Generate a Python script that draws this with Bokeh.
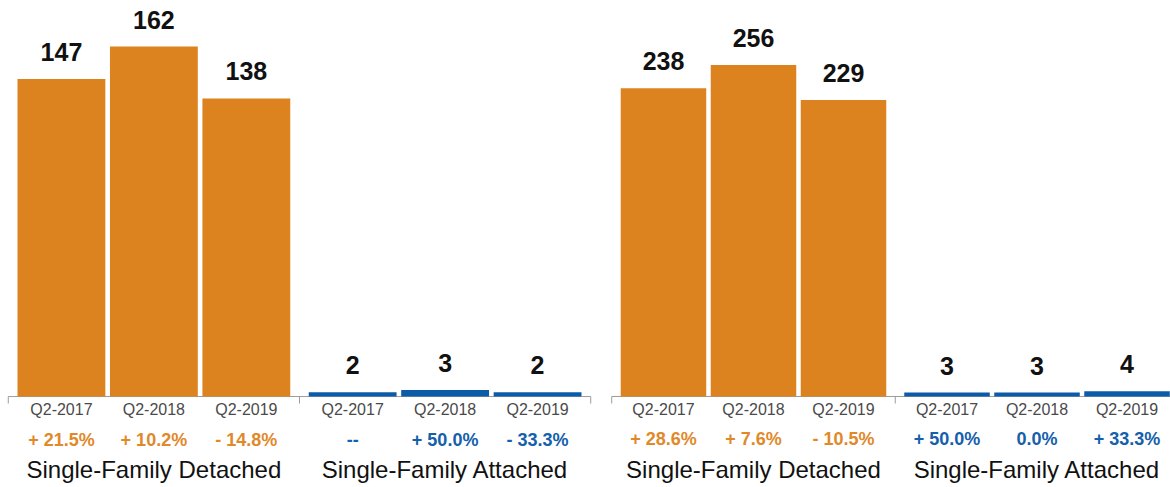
from math import pi

from bokeh.core.properties import value
from bokeh.embed import file_html
from bokeh.layouts import row
from bokeh.models import ColumnDataSource, Range1d
from bokeh.plotting import figure
from bokeh.resources import INLINE

# ---- data -------------------------------------------------------------
quarters = ["Q2-2017", "Q2-2018", "Q2-2019"]
groups = ["Single-Family Detached", "Single-Family Attached"]

left_detached = [147, 162, 138]
left_attached = [2, 3, 2]
left_detached_pct = ["+ 21.5%", "+ 10.2%", "- 14.8%"]
left_attached_pct = ["--", "+ 50.0%", "- 33.3%"]

right_detached = [238, 256, 229]
right_attached = [3, 3, 4]
right_detached_pct = ["+ 28.6%", "+ 7.6%", "- 10.5%"]
right_attached_pct = ["+ 50.0%", "0.0%", "+ 33.3%"]

# ---- styling ----------------------------------------------------------
ORANGE = "#DC821E"
BLUE = "#0B5BA8"
ORANGE_TXT = "#E0892A"
BLUE_TXT = "#1560AB"
AXIS = "#9C9C9C"
QTXT = "#4A4A4A"
FONT = value("Liberation Sans")
GROUP_GAP = 0.15
BAR_WIDTH = 0.95
HEIGHT = 487


def slot(gi, qi):
    return gi * (3 + GROUP_GAP) + qi + 0.5


def panel(detached, attached, det_pct, att_pct, width, xr, yr):
    p = figure(width=width, height=HEIGHT, x_range=Range1d(*xr), y_range=Range1d(*yr),
               output_backend="svg", toolbar_location=None,
               x_axis_location=None, y_axis_location=None,
               min_border=0, outline_line_color=None,
               background_fill_color="white", border_fill_color="white")
    p.grid.visible = False

    series = [(detached, det_pct, ORANGE, ORANGE_TXT), (attached, att_pct, BLUE, BLUE_TXT)]
    xs, tops, colors, labels, pcts, pcolors, qlabels = [], [], [], [], [], [], []
    for gi, (vals, pct, col, tcol) in enumerate(series):
        for qi, v in enumerate(vals):
            xs.append(slot(gi, qi))
            tops.append(v)
            colors.append(col)
            labels.append(str(v))
            pcts.append(pct[qi])
            pcolors.append(tcol)
            qlabels.append(quarters[qi])
    src = ColumnDataSource(dict(x=xs, top=tops, color=colors, label=labels,
                                pct=pcts, pcolor=pcolors, q=qlabels,
                                zero=[0] * len(xs)))

    # baseline with group separators
    bounds = [gi * (3 + GROUP_GAP) - GROUP_GAP / 2 for gi in range(3)]
    p.line(x=[bounds[0], bounds[-1]], y=[0, 0], line_color=AXIS, line_width=1)
    p.ray(x=bounds, y=[0] * 3, length=7, length_units="screen", angle=-pi / 2,
          line_color=AXIS, line_width=1)

    p.vbar(x="x", top="top", bottom=0, width=BAR_WIDTH, fill_color="color",
           line_color=None, source=src)

    p.text(x="x", y="top", text="label", y_offset=-27, text_align="center",
           text_baseline="alphabetic", text_font=FONT, text_font_style="bold",
           text_font_size="25px", text_color="#111111", source=src)
    p.text(x="x", y="zero", text="q", y_offset=13, text_align="center",
           text_baseline="alphabetic", text_font=FONT, text_font_size="16px",
           text_color=QTXT, source=src)
    p.text(x="x", y="zero", text="pct", y_offset=43, text_align="center",
           text_baseline="alphabetic", text_font=FONT, text_font_style="bold",
           text_font_size="18px", text_color="pcolor", source=src)

    gx = [slot(gi, 1) for gi in range(len(groups))]
    p.text(x=gx, y=[0, 0], text=groups, y_offset=73, text_align="center",
           text_baseline="alphabetic", text_font=FONT, text_font_size="24px",
           text_color="#111111")
    return p


left = panel(left_detached, left_attached, left_detached_pct, left_attached_pct,
             598, (-0.159, 6.309), (-42.1, 183.3))
right = panel(right_detached, right_attached, right_detached_pct, right_attached_pct,
              572, (-0.222, 6.133), (-70.3, 305.8))

layout = row(left, right)
open("out.html", "w").write(file_html(layout, INLINE))
